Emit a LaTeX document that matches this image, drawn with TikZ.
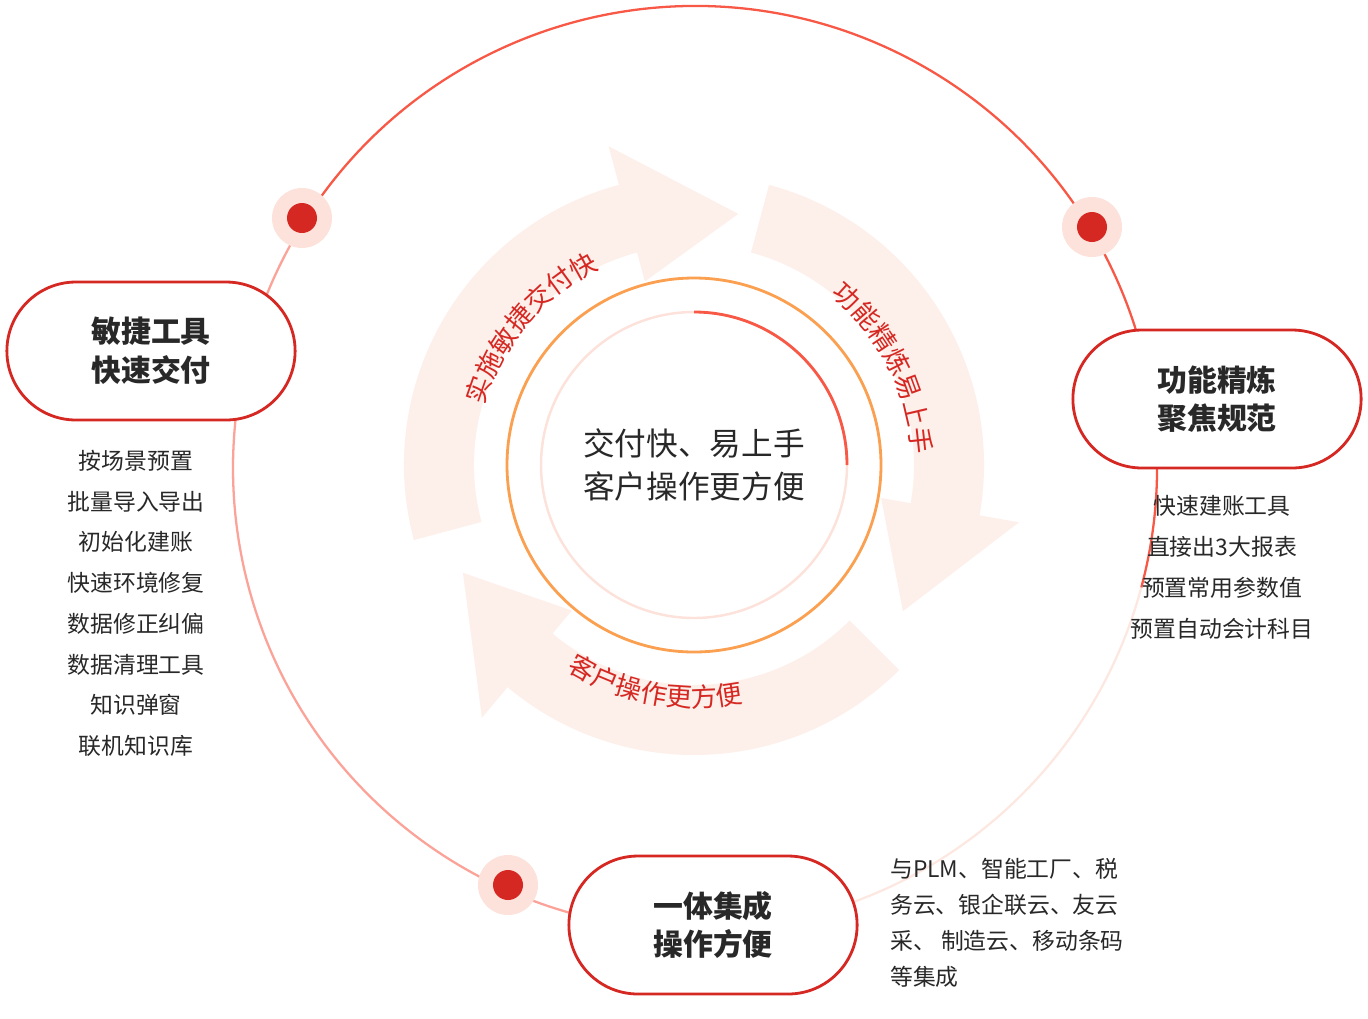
\documentclass[tikz,border=0pt]{standalone}
\usepackage{fontspec}
\setmainfont{Noto Sans CJK SC}
\usetikzlibrary{calc,positioning,shapes.misc,decorations.text}
\definecolor{hred}{RGB}{214,40,34}
\definecolor{ring}{RGB}{248,88,70}
\definecolor{pale}{RGB}{252,226,218}
\definecolor{bandc}{RGB}{253,239,234}
\definecolor{orng}{RGB}{250,160,80}
\definecolor{txt}{RGB}{40,40,40}
\newcommand\bandarrow[3]{%
\fill[bandc] ($(C)+(#1:290)$) arc[start angle=#1,end angle=#2,radius=290]
 -- ($(C)+(#2:330)$) -- ($(C)+(#3:255)$) -- ($(C)+(#2:190)$)
 -- ($(C)+(#2:220)$) arc[start angle=#2,end angle=#1,radius=220] -- cycle;}
\newcommand\arctext[4]{%
\path[decorate,decoration={text along path,text align=center,
 text={|\fontsize{15}{15}\selectfont\color{hred}|#4}}]
 ($(C)+(#1:#3)$) arc[start angle=#1,end angle=#2,radius=#3];}
\begin{document}
\begin{tikzpicture}[x=0.02cm,y=0.02cm,
 box/.style={rounded rectangle, draw=hred, line width=1.6pt, fill=white,
   minimum width=6.0cm, minimum height=2.76cm, font=\fontsize{17}{22}\selectfont\bfseries,
   text=txt, align=center},
 dot/.style={circle, fill=hred, minimum size=0.6cm, inner sep=0pt},
 halo/.style={circle, fill=pale, minimum size=1.2cm, inner sep=0pt},
 items/.style={font=\fontsize{13}{23.2}\selectfont, text=txt, align=center}]
\useasboundingbox (0,0) rectangle (1368,-1018);
\coordinate (C) at (694,-465);
\coordinate (O) at (695,-468);

% outer circle
\draw[ring, line width=1.3pt] ($(O)+(150:462)$) arc[start angle=150,end angle=-15,radius=462];
\draw[pale!80!white, line width=1.3pt] ($(O)+(-15:462)$) arc[start angle=-15,end angle=-75,radius=462];
\draw[ring!55!white, line width=1.3pt] ($(O)+(-75:462)$) arc[start angle=-75,end angle=-210,radius=462];

% arrows
\bandarrow{195}{105}{80}
\bandarrow{75}{-10}{-35}
\bandarrow{-45}{-130}{-155}

% inner rings
\draw[orng, line width=1.6pt] (C) circle[radius=187];
\draw[pale, line width=1.4pt] (C) circle[radius=153];
\draw[ring, line width=1.6pt] ($(C)+(90:153)$) arc[start angle=90,end angle=0,radius=153];
\node[font=\fontsize{18}{24}\selectfont, text=txt, align=center] (core) at (C) {交付快、易上手\\客户操作更方便};

% arc texts
\arctext{170}{110}{218}{实施敏捷交付快}
\arctext{56}{-2}{218}{功能精炼易上手}
\arctext{230}{290}{242}{客户操作更方便}

% dots
\node[halo] (h1) at (302,-218) {};
\node[dot] (d1) at (h1) {};
\node[halo] (h2) at (1092,-227) {};
\node[dot] (d2) at (h2) {};
\node[halo] (h3) at (508,-885) {};
\node[dot] (d3) at (h3) {};

% boxes
\node[box] (agile) at (151,-351) {敏捷工具\\快速交付};
\node[box] (refine) at (1217,-399) {功能精炼\\聚焦规范};
\node[box] (integ) at (713,-925) {一体集成\\操作方便};

% lists
\node[items, below=0.45cm of agile.south, anchor=north, xshift=-0.3cm] (agilelist)
 {按场景预置\\批量导入导出\\初始化建账\\快速环境修复\\数据修正纠偏\\数据清理工具\\知识弹窗\\联机知识库};
\node[items, below=0.4cm of refine.south, anchor=north, xshift=0.1cm] (refinelist)
 {快速建账工具\\直接出3大报表\\预置常用参数值\\预置自动会计科目};
\node[items, align=left, anchor=north west, font=\fontsize{13}{20.5}\selectfont] (integlist) at (884,-852)
 {与PLM、智能工厂、税\\务云、银企联云、友云\\采、 制造云、移动条码\\等集成};
\end{tikzpicture}
\end{document}
